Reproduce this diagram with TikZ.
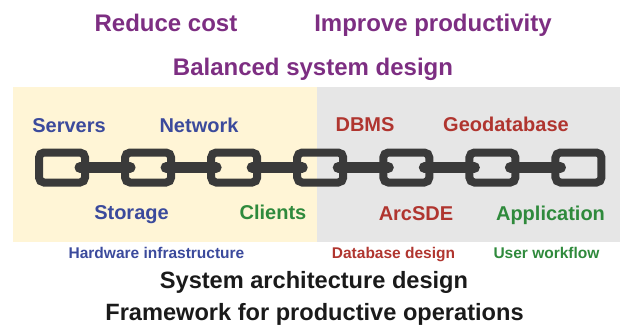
\documentclass[tikz,border=0pt]{standalone}
\usepackage{fontspec}
\setmainfont{Liberation Sans}
\definecolor{panelyellow}{HTML}{FFF5D6}
\definecolor{panelgray}{HTML}{E6E6E6}
\definecolor{chaingray}{HTML}{3A3A3A}
\definecolor{goalpurple}{HTML}{7D2E82}
\definecolor{hwblue}{HTML}{3B4A9C}
\definecolor{dbred}{HTML}{B0352F}
\definecolor{uxgreen}{HTML}{2F8A3C}
\definecolor{titleblack}{HTML}{1A1A1A}
\begin{document}
\begin{tikzpicture}[x=1pt,y=-1pt,
  lbl/.style={inner sep=0pt,anchor=base,font=\bfseries\fontsize{#1}{#1}\selectfont},
  goal/.style={lbl=24,text=goalpurple},
  hw/.style={lbl=20,text=hwblue},
  db/.style={lbl=20,text=dbred},
  ux/.style={lbl=20,text=uxgreen},
  area/.style={lbl=15.5},
  title/.style={lbl=23.6,text=titleblack},
  link/.style={draw=chaingray,line width=8pt,rounded corners=5pt,
    minimum width=46pt,minimum height=30pt,inner sep=0pt},
  bar/.style={draw=chaingray,line width=11pt,line cap=round}]
\useasboundingbox (0,0) rectangle (620,324);

% background panels
\fill[panelyellow] (13,87) rectangle (317,242);
\fill[panelgray] (317,87) rectangle (620,242);

% goals
\node[goal] (cost) at (166,31.5) {Reduce cost};
\node[goal] (prod) at (433,31.5) {Improve productivity};
\node[goal] (bal) at (313,75) {Balanced system design};

% chain links
\foreach \i in {1,...,7}
  \node[link] (L\i) at ({62+86.08*(\i-1)},167.5) {};
\foreach \i/\j in {1/2,2/3,3/4,4/5,5/6,6/7}
  \draw[bar] ([xshift=18pt]L\i.center) -- ([xshift=-18pt]L\j.center);

% component labels
\node[hw] (servers) at (69,132) {Servers};
\node[hw] (network) at (199,132) {Network};
\node[db] (dbms) at (365,131) {DBMS};
\node[db] (geodb) at (506,131) {Geodatabase};
\node[hw] (storage) at (131.5,219) {Storage};
\node[ux] (clients) at (273,219) {Clients};
\node[db] (arcsde) at (416,220) {ArcSDE};
\node[ux] (app) at (550.5,220) {Application};

% design areas
\node[area,text=hwblue] (hwarea) at (156.5,258) {Hardware infrastructure};
\node[area,text=dbred] (dbarea) at (393.5,258) {Database design};
\node[area,text=uxgreen] (uxarea) at (546.5,258) {User workflow};

% titles
\node[title] (sad) at (314,288) {System architecture design};
\node[title] (fpo) at (314.5,320) {Framework for productive operations};
\end{tikzpicture}
\end{document}
